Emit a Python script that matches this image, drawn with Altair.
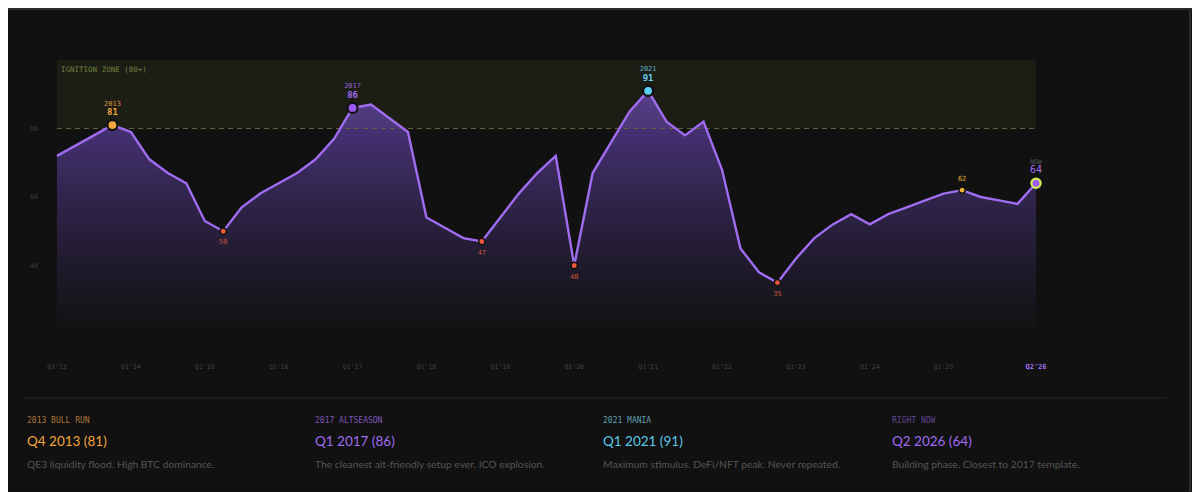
import altair as alt
import pandas as pd

# ---------------- data ----------------
YEARS = list(range(2013, 2027))
QUARTERS = [f"Q{q}'{str(y)[2:]}" for y in YEARS for q in (1, 2, 3, 4)][:54]
VALUES = [72, 75, 78, 81, 79, 71, 67, 64, 53, 50,
          57, 61, 64, 67, 71, 77, 86, 87, 83, 79,
          54, 51, 48, 47, 54, 61, 67, 72, 40, 67,
          76, 85, 91, 82, 78, 82, 68, 45, 38, 35,
          42, 48, 52, 55, 52, 55, 57, 59, 61, 62,
          60, 59, 58, 64]
X_TICK_LABELS = ["Q1'13", "Q1'14", "Q1'15", "Q1'16", "Q1'17", "Q1'18", "Q1'19",
                 "Q1'20", "Q1'21", "Q1'22", "Q1'23", "Q1'24", "Q1'25"]
NOW_LABEL = "Q2'26"
Y_TICKS = [40, 60, 80]
Y_MIN, Y_MAX = 20, 100
ZONE_MIN = 80
ZONE_TEXT = "IGNITION ZONE (80+)"

PEAK_QUARTERS = ["Q4'13", "Q1'17", "Q1'21"]
PEAK_NAMES = ["2013", "2017", "2021"]
LOW_QUARTERS = ["Q2'15", "Q4'18", "Q1'20", "Q4'22"]
MID_QUARTERS = ["Q2'25"]
NOW_QUARTER = "Q2'26"
NOW_NAME = "NOW"

CARD_TAGS = ["2013 BULL RUN", "2017 ALTSEASON", "2021 MANIA", "RIGHT NOW"]
CARD_TITLES = ["Q4 2013 (81)", "Q1 2017 (86)", "Q1 2021 (91)", "Q2 2026 (64)"]
CARD_DESCS = ["QE3 liquidity flood. High BTC dominance.",
              "The cleanest alt-friendly setup ever. ICO explosion.",
              "Maximum stimulus. DeFi/NFT peak. Never repeated.",
              "Building phase. Closest to 2017 template."]

# ---------------- tables ----------------
df = pd.DataFrame({"i": range(len(VALUES)), "q": QUARTERS, "v": VALUES})
df["base"] = Y_MIN
def pick(qs):
    return df[df["q"].isin(qs)].reset_index(drop=True)

ticks_df = pd.DataFrame({"lab": X_TICK_LABELS, "i": [QUARTERS.index(l) for l in X_TICK_LABELS]})
now_tick_df = pd.DataFrame({"lab": [NOW_LABEL], "i": [QUARTERS.index(NOW_LABEL)]})
yt_df = pd.DataFrame({"v": Y_TICKS, "lab": [str(t) for t in Y_TICKS]})
zone_df = pd.DataFrame({"x0": [0], "x1": [len(VALUES) - 1], "y0": [ZONE_MIN], "y1": [Y_MAX], "t": [ZONE_TEXT]})
one = pd.DataFrame({"k": [0]})

# ---------------- styles ----------------
MONO = "DejaVu Sans Mono"
SANS = "Lato"
BG = "#111111"
PURPLE = "#a06cf0"

xs = alt.Scale(domain=[0, len(VALUES) - 1], range=[49, 1028], nice=False, zero=False)
ys = alt.Scale(domain=[Y_MIN, Y_MAX], range=[326, 52], nice=False, zero=False)

def X(f):
    return alt.X(f, type="quantitative", scale=xs, axis=None)

def Y(f):
    return alt.Y(f, type="quantitative", scale=ys, axis=None)

layers = []

# zone band
layers.append(alt.Chart(zone_df).mark_rect(color="#1c1d15").encode(
    x=X("x0"), x2="x1", y=Y("y0"), y2="y1"))

# gradient area
grad = alt.Gradient(
    gradient="linear",
    stops=[alt.GradientStop(color="rgba(139,92,246,0.52)", offset=0),
           alt.GradientStop(color="rgba(139,92,246,0.25)", offset=0.45),
           alt.GradientStop(color="rgba(139,92,246,0.09)", offset=0.78),
           alt.GradientStop(color="rgba(139,92,246,0.0)", offset=1)],
    x1=1, x2=1, y1=0, y2=1)
layers.append(alt.Chart(df).mark_area(color=grad).encode(x=X("i"), y=Y("v"), y2="base"))

# dashed threshold
layers.append(alt.Chart(zone_df).mark_rule(color="#5e603f", strokeDash=[5, 4], strokeWidth=1.2).encode(
    x=X("x0"), x2="x1", y=Y("y0")))

# line
layers.append(alt.Chart(df).mark_line(color=PURPLE, strokeWidth=2.4).encode(x=X("i"), y=Y("v")))

# zone label
layers.append(alt.Chart(zone_df).mark_text(font=MONO, fontSize=7.5, color="#73803e", align="left",
                                           baseline="middle", dx=4, dy=10).encode(
    x=X("x0"), y=Y("y1"), text="t:N"))

# axis labels
layers.append(alt.Chart(yt_df).mark_text(font=MONO, fontSize=6.5, color="#3e3e3e", align="center",
                                         baseline="middle").encode(
    x=alt.value(26), y=Y("v"), text="lab:N"))
layers.append(alt.Chart(ticks_df).mark_text(font=MONO, fontSize=6.5, color="#454545", baseline="middle").encode(
    x=X("i"), y=alt.value(359), text="lab:N"))
layers.append(alt.Chart(now_tick_df).mark_text(font=MONO, fontSize=7, fontWeight="bold", color=PURPLE,
                                               baseline="middle").encode(
    x=X("i"), y=alt.value(359), text="lab:N"))

# lows
low_df = pick(LOW_QUARTERS)
layers.append(alt.Chart(low_df).mark_circle(size=40, fill="#ef5a3a", stroke=BG, strokeWidth=1.5, opacity=1).encode(
    x=X("i"), y=Y("v")))
layers.append(alt.Chart(low_df).mark_text(font=MONO, fontSize=7, color="#c9553e", baseline="middle", dy=11).encode(
    x=X("i"), y=Y("v"), text="v:Q"))

# mid marker
mid_df = pick(MID_QUARTERS)
layers.append(alt.Chart(mid_df).mark_circle(size=40, fill="#f2b33d", stroke=BG, strokeWidth=1.5, opacity=1).encode(
    x=X("i"), y=Y("v")))
layers.append(alt.Chart(mid_df).mark_text(font=MONO, fontSize=7, color="#e0a53a", baseline="middle", dy=-11).encode(
    x=X("i"), y=Y("v"), text="v:Q"))

# peaks
peak_styles = [("#f5a742", "#d9953e", "#f2a541"),
               ("#9d5cf5", "#8e62d4", "#a06cf0"),
               ("#5ccff5", "#5fb5c6", "#66d0f0")]
for q, name, (fill, c_small, c_big) in zip(PEAK_QUARTERS, PEAK_NAMES, peak_styles):
    p_df = pick([q])
    p_df["name"] = name
    layers.append(alt.Chart(p_df).mark_circle(size=100, fill=fill, stroke=BG, strokeWidth=2.2, opacity=1).encode(
        x=X("i"), y=Y("v")))
    layers.append(alt.Chart(p_df).mark_text(font=MONO, fontSize=9, fontWeight="bold", color=c_big,
                                            baseline="middle", dy=-13).encode(
        x=X("i"), y=Y("v"), text="v:Q"))
    layers.append(alt.Chart(p_df).mark_text(font=MONO, fontSize=7, color=c_small,
                                            baseline="middle", dy=-21.5).encode(
        x=X("i"), y=Y("v"), text="name:N"))

# now marker
n_df = pick([NOW_QUARTER])
n_df["name"] = NOW_NAME
layers.append(alt.Chart(n_df).mark_circle(size=85, fill="#9d5cf5", stroke="#d8ee55", strokeWidth=2.2, opacity=1).encode(
    x=X("i"), y=Y("v")))
layers.append(alt.Chart(n_df).mark_text(font=MONO, fontSize=10, color=PURPLE, baseline="middle", dy=-13).encode(
    x=X("i"), y=Y("v"), text="v:Q"))
layers.append(alt.Chart(n_df).mark_text(font=MONO, fontSize=6.5, color="#555555", baseline="middle", dy=-21).encode(
    x=X("i"), y=Y("v"), text="name:N"))

# frame + separator
layers.append(alt.Chart(one).mark_rule(color="#2a2a2a", strokeWidth=1).encode(
    x=alt.value(15), x2=alt.value(1159), y=alt.value(390)))
layers.append(alt.Chart(one).mark_rule(color="#2c2c2c", strokeWidth=2).encode(
    x=alt.value(0), x2=alt.value(1184), y=alt.value(1)))
layers.append(alt.Chart(one).mark_rule(color="#2c2c2c", strokeWidth=2).encode(
    x=alt.value(1182), y=alt.value(0), y2=alt.value(484)))

# cards
card_x = [19, 307, 595, 884]
tag_colors = ["#a8763a", "#7c56bb", "#5f9fae", "#634592"]
title_colors = ["#f2a541", "#a06cf0", "#5cc9ea", "#a06cf0"]
for k in range(4):
    c_df = pd.DataFrame({"tag": [CARD_TAGS[k]], "title": [CARD_TITLES[k]], "desc": [CARD_DESCS[k]]})
    base = alt.Chart(c_df)
    layers.append(base.mark_text(font=MONO, fontSize=8, color=tag_colors[k], align="left",
                                 baseline="middle").encode(
        x=alt.value(card_x[k]), y=alt.value(413), text="tag:N"))
    layers.append(base.mark_text(font=SANS, fontSize=13.5, color=title_colors[k], align="left",
                                 baseline="middle").encode(
        x=alt.value(card_x[k]), y=alt.value(434), text="title:N"))
    layers.append(base.mark_text(font=SANS, fontSize=10.3, color="#555555", align="left",
                                 baseline="middle").encode(
        x=alt.value(card_x[k]), y=alt.value(457), text="desc:N"))

chart = alt.layer(*layers).properties(
    width=1184, height=484,
    autosize=alt.AutoSizeParams(type="none"),
    padding=0,
    background=BG,
).configure_view(strokeWidth=0)

chart.save("out.html", embed_options={"renderer": "svg", "actions": False})
